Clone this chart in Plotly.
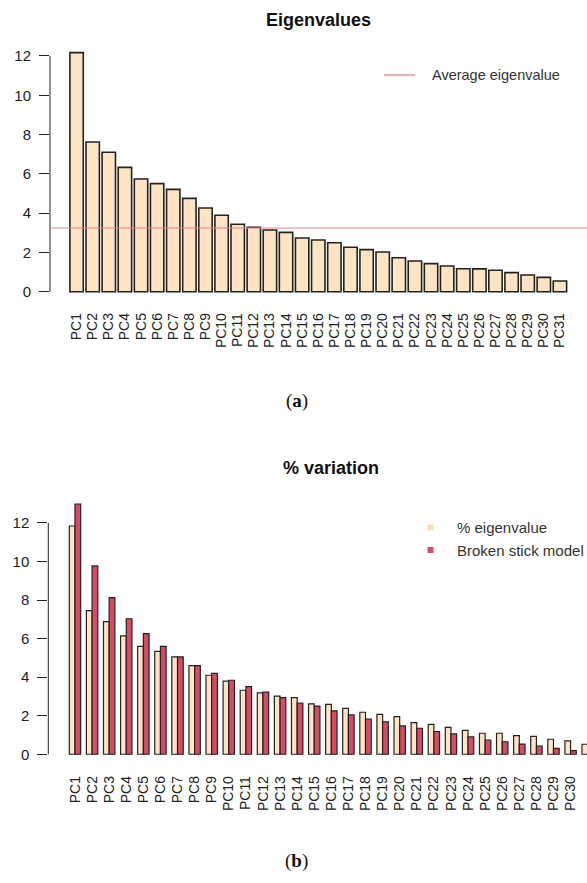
import plotly.graph_objects as go

W, H = 587, 883

# ---- data -------------------------------------------------------------
components = [f"PC{i}" for i in range(1, 32)]

eigenvalues = [12.17, 7.62, 7.10, 6.33, 5.74, 5.50, 5.21, 4.75, 4.26, 3.89,
               3.43, 3.28, 3.14, 3.02, 2.73, 2.63, 2.49, 2.26, 2.14, 2.02,
               1.73, 1.56, 1.43, 1.31, 1.17, 1.16, 1.09, 0.97, 0.85, 0.73, 0.54]
average_eigenvalue = 3.24

pct_eigenvalue = [11.84, 7.45, 6.88, 6.14, 5.60, 5.34, 5.05, 4.60, 4.10, 3.79,
                  3.32, 3.18, 3.02, 2.94, 2.61, 2.59, 2.38, 2.18, 2.07, 1.95,
                  1.64, 1.55, 1.40, 1.24, 1.09, 1.09, 0.97, 0.93, 0.78, 0.69, 0.52]
broken_stick = [12.98, 9.77, 8.12, 7.03, 6.26, 5.60, 5.05, 4.60, 4.20, 3.84,
                3.51, 3.22, 2.94, 2.66, 2.50, 2.25, 2.04, 1.83, 1.68, 1.47,
                1.35, 1.18, 1.06, 0.90, 0.74, 0.65, 0.53, 0.43, 0.31, 0.19, 0.10]

y_ticks = [0, 2, 4, 6, 8, 10, 12]

# ---- styling ----------------------------------------------------------
BISQUE = "#FFE4C4"
CRIMSON = "#D94A64"
AVG_RED = "#E3868C"
INK = "#222222"
SANS = "Liberation Sans, Arial, Helvetica, sans-serif"
SERIF = "Liberation Serif, Times New Roman, serif"


def fx(px):
    return px / W


def fy(py):
    return 1 - py / H


fig = go.Figure()

# (a) eigenvalues
fig.add_trace(go.Bar(
    x=components, y=eigenvalues, xaxis="x", yaxis="y",
    width=0.83,
    marker=dict(color=BISQUE, line=dict(color=INK, width=1.6)),
    showlegend=False, name="Eigenvalue",
))

# (b) % variation vs broken stick model
fig.add_trace(go.Bar(
    x=components, y=pct_eigenvalue, xaxis="x2", yaxis="y2",
    width=1 / 3, offset=-1 / 3,
    marker=dict(color=BISQUE, line=dict(color=INK, width=1.2)),
    showlegend=False, name="% eigenvalue",
))
fig.add_trace(go.Bar(
    x=components, y=broken_stick, xaxis="x2", yaxis="y2",
    width=1 / 3, offset=0,
    marker=dict(color=CRIMSON, line=dict(color=INK, width=1.2)),
    showlegend=False, name="Broken stick model",
))

xcommon = dict(type="category", tickmode="array", tickvals=components,
               ticktext=components, tickangle=-90, ticks="", showline=False,
               showgrid=False, zeroline=False, ticklabelstandoff=8,
               tickfont=dict(family=SANS, size=14, color=INK))
ycommon = dict(tickvals=y_ticks, ticks="outside", ticklen=10, tickwidth=1,
               tickcolor=INK, showline=False, showgrid=False, zeroline=False,
               ticklabelstandoff=5,
               tickfont=dict(family=SANS, size=15, color=INK))

fig.update_layout(
    width=W, height=H,
    margin=dict(l=0, r=0, t=0, b=0),
    paper_bgcolor="white", plot_bgcolor="white",
    barmode="overlay",
    xaxis=dict(domain=[fx(50), 1], anchor="y", range=[-1.65, 31.68], **xcommon),
    yaxis=dict(domain=[fy(301.3), fy(43)], anchor="x", range=[-0.49, 12.66], **ycommon),
    xaxis2=dict(domain=[fx(48.3), 1], anchor="y2", range=[-1.562, 29.96], **xcommon),
    yaxis2=dict(domain=[fy(764.3), fy(493.8)], anchor="x2", range=[-0.52, 13.51], **ycommon),
)

shapes = [
    # y axis lines spanning the labelled tick range
    dict(type="line", xref="x domain", yref="y", x0=0, x1=0,
         y0=y_ticks[0], y1=y_ticks[-1], line=dict(color=INK, width=1)),
    dict(type="line", xref="x2 domain", yref="y2", x0=0, x1=0,
         y0=y_ticks[0], y1=y_ticks[-1], line=dict(color=INK, width=1)),
    # average eigenvalue reference line
    dict(type="line", xref="x domain", yref="y", x0=0, x1=1,
         y0=average_eigenvalue, y1=average_eigenvalue,
         line=dict(color=AVG_RED, width=1)),
    # legend keys
    dict(type="line", xref="paper", yref="paper", x0=fx(384), x1=fx(415),
         y0=fy(75), y1=fy(75), line=dict(color=AVG_RED, width=1.3)),
    dict(type="rect", xref="paper", yref="paper", x0=fx(427.5), x1=fx(433.5),
         y0=fy(530.5), y1=fy(524.5), fillcolor="#F6DDB4", line=dict(width=0)),
    dict(type="rect", xref="paper", yref="paper", x0=fx(427.5), x1=fx(433.5),
         y0=fy(553), y1=fy(547), fillcolor=CRIMSON, line=dict(width=0)),
]

annotations = [
    dict(text="<b>Eigenvalues</b>", x=fx(318), y=fy(19.5)),
    dict(text="<b>% variation</b>", x=fx(331), y=fy(468)),
]
for a in annotations:
    a.update(xref="paper", yref="paper", showarrow=False,
             xanchor="center", yanchor="middle",
             font=dict(family=SANS, size=18, color="#111111"))

# legend entries: (text, left edge px, centre px, font size)
legend_texts = [
    ("Average eigenvalue", 430, 75, 14.5),
    ("% eigenvalue", 455, 527.5, 15),
    ("Broken stick model", 455, 550, 15),
]
for txt, px, py, size in legend_texts:
    annotations.append(dict(
        text=txt, xref="paper", yref="paper", x=fx(px),
        y=fy(py), xanchor="left", yanchor="middle", showarrow=False,
        font=dict(family=SANS, size=size, color="#333333")))

for txt, py in [("(<b>a</b>)", 401), ("(<b>b</b>)", 861)]:
    annotations.append(dict(
        text=txt, xref="paper", yref="paper", x=fx(296.7), y=fy(py),
        xanchor="center", yanchor="middle", showarrow=False,
        font=dict(family=SERIF, size=19, color="#111111")))

fig.update_layout(shapes=shapes, annotations=annotations)

fig.write_html("out.html")
